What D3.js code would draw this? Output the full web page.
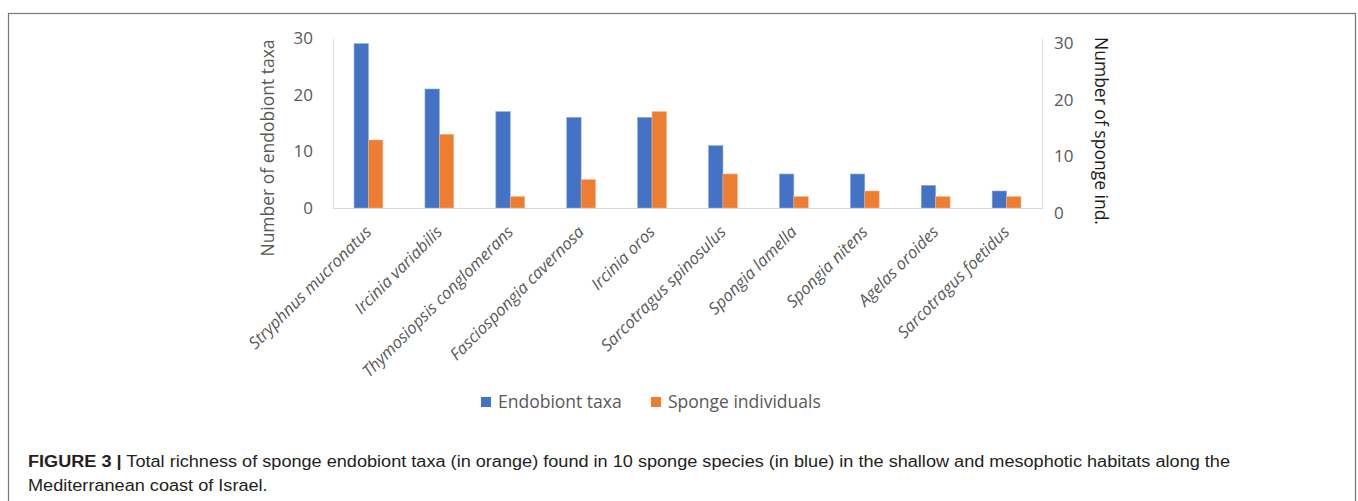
<!DOCTYPE html>
<html>
<head>
<meta charset="utf-8">
<script src="https://cdn.jsdelivr.net/npm/d3@7/dist/d3.min.js"></script>
<style>
  html, body { margin: 0; padding: 0; background: #fff; }
  svg { display: block; }
</style>
</head>
<body>
<svg id="chart" width="1358" height="501"></svg>
<script>
// Sponge species (x categories)
const species = [
  "Stryphnus mucronatus",
  "Ircinia variabilis",
  "Thymosiopsis conglomerans",
  "Fasciospongia cavernosa",
  "Ircinia oros",
  "Sarcotragus spinosulus",
  "Spongia lamella",
  "Spongia nitens",
  "Agelas oroides",
  "Sarcotragus foetidus"
];
// Series names
const seriesNames = ["Endobiont taxa", "Sponge individuals"];
// Number of endobiont taxa per species
const endobiontTaxa = [29, 21, 17, 16, 16, 11, 6, 6, 4, 3];
// Number of sponge individuals sampled per species
const spongeIndividuals = [12, 13, 2, 5, 17, 6, 2, 3, 2, 2];
// Axis ticks
const yTicks = [0, 10, 20, 30];
const leftAxisTitle = "Number of endobiont taxa";
const rightAxisTitle = "Number of sponge ind.";
const captionBold = "FIGURE 3 | ";
const captionLine1 = "Total richness of sponge endobiont taxa (in orange) found in 10 sponge species (in blue) in the shallow and mesophotic habitats along the";
const captionLine2 = "Mediterranean coast of Israel.";

const colors = { "Endobiont taxa": "#4472C4", "Sponge individuals": "#ED7D31" };
const edge = { "Endobiont taxa": "#8FAADC", "Sponge individuals": "#F4B183" };

const svg = d3.select("#chart");
const font = "'Open Sans', 'Noto Sans', sans-serif";
const grey = "#595959";

// Outer frame
svg.append("rect")
  .attr("x", 8.5).attr("y", 13.5)
  .attr("width", 1347).attr("height", 520)
  .attr("fill", "none").attr("stroke", "#777").attr("stroke-width", 1.2);

const plot = { left: 333, right: 1042, top: 38, bottom: 208 };

const x0 = d3.scaleBand()
  .domain(species)
  .range([plot.left, plot.right])
  .paddingInner(0.594)
  .paddingOuter(0.297);

const x1 = d3.scaleBand()
  .domain(seriesNames)
  .range([0, x0.bandwidth()]);

const y = d3.scaleLinear().domain([0, 30]).range([plot.bottom, plot.top]);

// Plot-area side lines
const frame = svg.append("g").attr("stroke", "#e4e4e4").attr("stroke-width", 1);
frame.append("line").attr("x1", plot.left + 0.5).attr("x2", plot.left + 0.5).attr("y1", y(30)).attr("y2", y(0));
frame.append("line").attr("x1", plot.right + 0.5).attr("x2", plot.right + 0.5).attr("y1", y(30)).attr("y2", y(0));

// Bars
const rows = species.map((s, i) => ({
  species: s,
  values: [
    { key: seriesNames[0], value: endobiontTaxa[i] },
    { key: seriesNames[1], value: spongeIndividuals[i] }
  ]
}));

const groups = svg.append("g").selectAll("g")
  .data(rows).join("g")
  .attr("transform", d => `translate(${x0(d.species)},0)`);

groups.selectAll("rect")
  .data(d => d.values).join("rect")
  .attr("x", d => x1(d.key))
  .attr("width", x1.bandwidth())
  .attr("y", d => y(d.value))
  .attr("height", d => y(0) - y(d.value))
  .attr("fill", d => colors[d.key])
  .attr("stroke", d => edge[d.key])
  .attr("stroke-width", 0.6);

// Baseline
svg.append("line")
  .attr("x1", plot.left).attr("x2", plot.right + 1)
  .attr("y1", y(0) + 0.5).attr("y2", y(0) + 0.5)
  .attr("stroke", "#d9d9d9").attr("stroke-width", 1);

// Left axis
const leftAxis = d3.axisLeft(y).tickValues(yTicks).tickSize(0).tickPadding(20);
const gl = svg.append("g").attr("transform", `translate(${plot.left},0)`).call(leftAxis);
gl.select(".domain").remove();
gl.selectAll("text").attr("font-family", font).attr("font-size", 17).attr("fill", grey);

// Right axis (labels sit slightly lower than the left ones)
const rightAxis = d3.axisRight(y).tickValues(yTicks).tickSize(0).tickPadding(12);
const gr = svg.append("g").attr("transform", `translate(${plot.right},5)`).call(rightAxis);
gr.select(".domain").remove();
gr.selectAll("text").attr("font-family", font).attr("font-size", 17).attr("fill", grey);

// Axis titles
svg.append("text")
  .attr("transform", "translate(274,148) rotate(-90)")
  .attr("text-anchor", "middle")
  .attr("font-family", font).attr("font-size", 17.5).attr("fill", grey)
  .text(leftAxisTitle);

svg.append("text")
  .attr("transform", "translate(1095,131) rotate(90)")
  .attr("text-anchor", "middle")
  .attr("font-family", font).attr("font-size", 17.5).attr("fill", "#1a1a1a")
  .text(rightAxisTitle);

// Category labels, rotated
svg.append("g").selectAll("text")
  .data(species).join("text")
  .attr("transform", d => `translate(${x0(d) + x0.bandwidth() / 2 + 4},${plot.bottom + 25}) rotate(-45)`)
  .attr("text-anchor", "end")
  .attr("font-family", font).attr("font-style", "italic")
  .attr("font-size", 16.5).attr("fill", grey)
  .text(d => d);

// Legend
const legend = svg.append("g").attr("font-family", font).attr("font-size", 17.5).attr("fill", grey);
const legendX = [481, 651];
seriesNames.forEach((name, i) => {
  legend.append("rect")
    .attr("x", legendX[i]).attr("y", 397)
    .attr("width", 10).attr("height", 10)
    .attr("fill", colors[name]);
  legend.append("text")
    .attr("x", legendX[i] + 17).attr("y", 408)
    .text(name);
});

// Caption
const capFont = "'Liberation Sans Narrow', 'Liberation Sans', Arial, sans-serif";
const cap1 = svg.append("text")
  .attr("x", 28).attr("y", 467)
  .attr("font-family", capFont).attr("font-size", 16).attr("fill", "#231f20");
cap1.append("tspan").attr("font-weight", "bold").text(captionBold.trim());
cap1.append("tspan").text(" " + captionLine1);
const natural1 = cap1.node().getComputedTextLength();
const ratio = 1202 / natural1;
cap1.attr("textLength", 1202).attr("lengthAdjust", "spacingAndGlyphs");

const cap2 = svg.append("text")
  .attr("x", 28).attr("y", 491)
  .attr("font-family", capFont).attr("font-size", 16).attr("fill", "#231f20")
  .text(captionLine2);
const natural2 = cap2.node().getComputedTextLength();
cap2.attr("textLength", natural2 * ratio).attr("lengthAdjust", "spacingAndGlyphs");
</script>
</body>
</html>
